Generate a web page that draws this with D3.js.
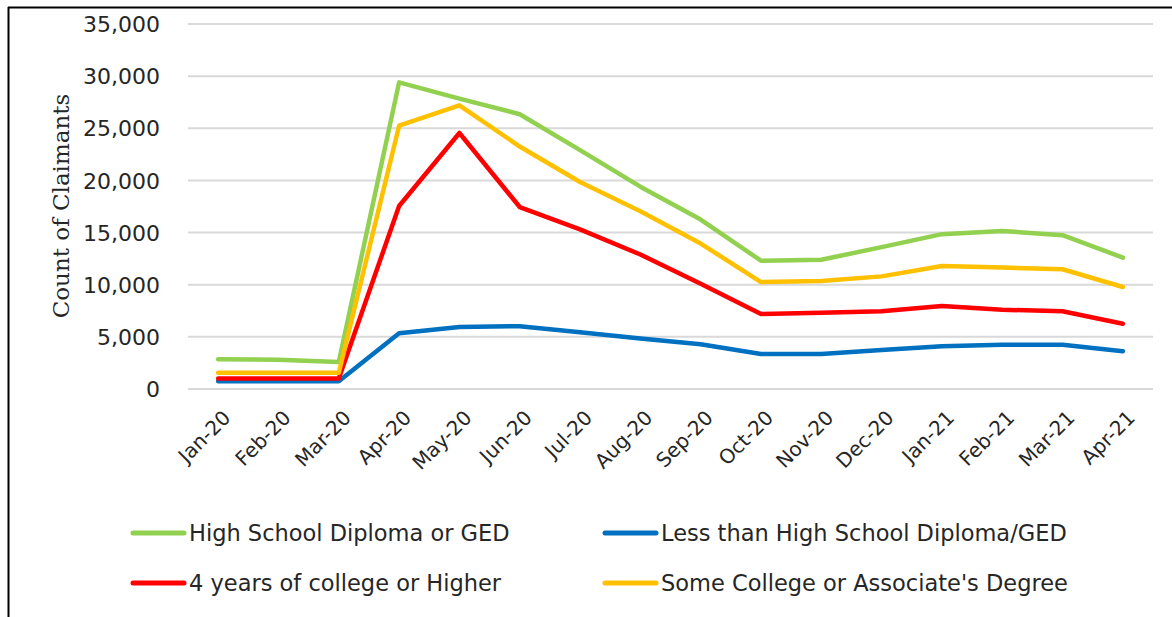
<!DOCTYPE html>
<html><head><meta charset="utf-8">
<script src="https://cdn.jsdelivr.net/npm/d3@7"></script>
<style>body{margin:0;background:#fff}svg{display:block}</style>
</head><body>
<svg id="c" width="1172" height="617"></svg>
<script>
const months = ["Jan-20","Feb-20","Mar-20","Apr-20","May-20","Jun-20","Jul-20","Aug-20","Sep-20","Oct-20","Nov-20","Dec-20","Jan-21","Feb-21","Mar-21","Apr-21"];
const highSchool   = [2850,2800,2600,29400,27850,26350,22900,19400,16250,12300,12400,13600,14850,15150,14750,12600];
const lessThanHS   = [750,750,750,5350,5950,6020,5450,4850,4300,3350,3350,3750,4100,4250,4250,3620];
const fourYears    = [1000,1000,1000,17550,24550,17450,15300,12900,10100,7200,7300,7450,7950,7600,7450,6250];
const someCollege  = [1550,1550,1550,25250,27200,23250,19850,17050,13950,10250,10350,10800,11800,11650,11480,9780];
const yTicks = [0,5000,10000,15000,20000,25000,30000,35000];

const series = [
  {name:"High School Diploma or GED", values:highSchool, color:"#92d050"},
  {name:"Less than High School Diploma/GED", values:lessThanHS, color:"#0070c0"},
  {name:"4 years of college or Higher", values:fourYears, color:"#ff0000"},
  {name:"Some College or Associate's Degree", values:someCollege, color:"#ffc000"}
];

const svg = d3.select("#c");
const font = "'DejaVu Sans', sans-serif";
const L = 188, R = 1153, T = 24, B = 389;

// frame
svg.append("line").attr("x1",8.5).attr("x2",8.5).attr("y1",7).attr("y2",617).attr("stroke","#000").attr("stroke-width",2);
svg.append("line").attr("x1",8).attr("x2",1172).attr("y1",7.5).attr("y2",7.5).attr("stroke","#000").attr("stroke-width",2);

const x = d3.scalePoint().domain(months).range([L, R]).padding(0.5);
const y = d3.scaleLinear().domain([0,35000]).range([B, T]);

// gridlines
svg.append("g").selectAll("line").data(yTicks).join("line")
  .attr("x1",L).attr("x2",R).attr("y1",d=>y(d)).attr("y2",d=>y(d))
  .attr("stroke","#d9d9d9").attr("stroke-width",2);

// y axis
const ya = svg.append("g").attr("transform",`translate(${L},0)`)
  .call(d3.axisLeft(y).tickValues(yTicks).tickFormat(d3.format(",")).tickSize(0).tickPadding(28));
ya.select(".domain").remove();
ya.selectAll("text").attr("font-family",font).attr("font-size",22).attr("fill","#262626").attr("dy","0.35em");

// x axis
const xa = svg.append("g").attr("transform",`translate(0,${B})`)
  .call(d3.axisBottom(x).tickSize(0).tickPadding(0));
xa.select(".domain").remove();
xa.selectAll("text").attr("font-family",font).attr("font-size",20).attr("fill","#262626")
  .attr("text-anchor","end").attr("dy",0).attr("y",0)
  .attr("transform","translate(13,30) rotate(-45)");

// y title
svg.append("text").attr("transform","translate(69,206) rotate(-90)")
  .attr("text-anchor","middle").attr("font-family","'DejaVu Serif', serif").attr("font-size",23)
  .attr("fill","#262626").text("Count of Claimants");

// lines
const line = d3.line().x((d,i)=>x(months[i])).y(d=>y(d));
svg.append("g").selectAll("path").data(series).join("path")
  .attr("d",d=>line(d.values)).attr("fill","none").attr("stroke",d=>d.color)
  .attr("stroke-width",4.5).attr("stroke-linejoin","round").attr("stroke-linecap","round");

// legend
const legPos = [[131,533],[603,533],[131,583],[603,583]];
const lg = svg.append("g").selectAll("g").data(series).join("g")
  .attr("transform",(d,i)=>`translate(${legPos[i][0]},${legPos[i][1]})`);
lg.append("line").attr("x1",2).attr("x2",53).attr("y1",0).attr("y2",0)
  .attr("stroke",d=>d.color).attr("stroke-width",5).attr("stroke-linecap","round");
lg.append("text").attr("x",58).attr("y",0).attr("dy","0.35em")
  .attr("font-family",font).attr("font-size",22.5).attr("fill","#262626").text(d=>d.name);
</script>
</body></html>
